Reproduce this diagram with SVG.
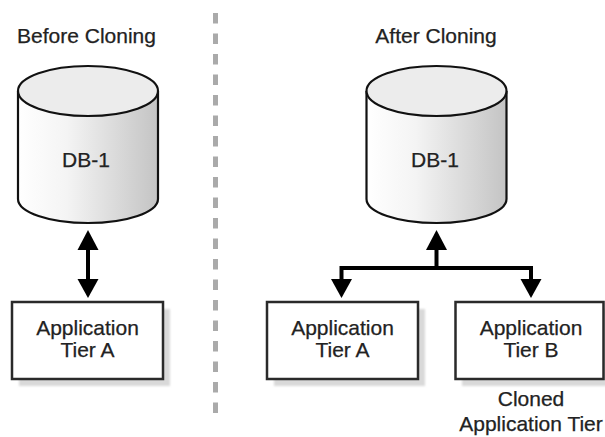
<svg xmlns="http://www.w3.org/2000/svg" width="605" height="437" viewBox="0 0 605 437">
<style>
text{font-family:"Liberation Sans",Arial,sans-serif;font-size:21px;fill:#222;text-anchor:middle;stroke:#222;stroke-width:0.25}
.side{fill:url(#cylGrad);stroke:#111;stroke-width:2.2}
.top{fill:#ececec;stroke:#111;stroke-width:2.2}
.box{fill:#fff;stroke:#2a2a2a;stroke-width:2.5}
.shadow{fill:#d9d9d9;filter:url(#blur)}
.conn{fill:none;stroke:#000;stroke-width:4}
.head{fill:#000}
</style>
<defs>
<linearGradient id="cylGrad" x1="0" y1="0" x2="1" y2="0">
<stop offset="0" stop-color="#ffffff"/>
<stop offset="0.35" stop-color="#f4f4f4"/>
<stop offset="1" stop-color="#c4c4c4"/>
</linearGradient>
<filter id="blur" x="-10%" y="-10%" width="120%" height="120%"><feGaussianBlur stdDeviation="1"/></filter>
</defs>
<rect width="605" height="437" fill="#fff"/>
<line x1="215.5" y1="13" x2="215.5" y2="413" stroke="#aaa" stroke-width="5" stroke-dasharray="10.5 10"/>
<text x="86.5" y="43">Before Cloning</text>
<text x="436" y="43">After Cloning</text>
<g id="db1-before">
<path class="side" d="M18,91 V199 A70,24 0 0 0 158,199 V91"/>
<ellipse class="top" cx="88" cy="91" rx="70" ry="25"/>
<text x="86" y="167">DB-1</text>
</g>
<g id="db1-after">
<path class="side" d="M366.5,91 V199 A70,24 0 0 0 506.5,199 V91"/>
<ellipse class="top" cx="436.5" cy="91" rx="70" ry="25"/>
<text x="435" y="167">DB-1</text>
</g>
<g id="apptierA-before">
<rect class="shadow" x="19" y="309" width="151" height="77"/>
<rect class="box" x="12" y="302" width="151" height="77"/>
<text x="87.5" y="334.5">Application</text>
<text x="87.5" y="356.5">Tier A</text>
</g>
<g id="apptierA-after">
<rect class="shadow" x="274" y="309" width="151" height="77"/>
<rect class="box" x="267" y="302" width="151" height="77"/>
<text x="342.5" y="334.5">Application</text>
<text x="342.5" y="356.5">Tier A</text>
</g>
<g id="apptierB-after">
<rect class="shadow" x="462" y="309" width="151" height="77"/>
<rect class="box" x="455.5" y="302" width="148" height="77"/>
<text x="531" y="334.5">Application</text>
<text x="531" y="356.5">Tier B</text>
<text x="531" y="406">Cloned</text>
<text x="531" y="431">Application Tier</text>
</g>
<g id="connectors">
<line class="conn" x1="88" y1="248" x2="88" y2="281"/>
<polygon class="head" points="88,230 98.5,250 77.5,250"/>
<polygon class="head" points="88,298 98.5,279 77.5,279"/>
<polyline class="conn" points="341.5,282 341.5,268 531,268 531,282"/>
<line class="conn" x1="436.5" y1="248" x2="436.5" y2="268"/>
<polygon class="head" points="436.5,230 447,250 426,250"/>
<polygon class="head" points="341.5,298 352,279 331,279"/>
<polygon class="head" points="531,298 541.5,279 520.5,279"/>
</g>
</svg>
